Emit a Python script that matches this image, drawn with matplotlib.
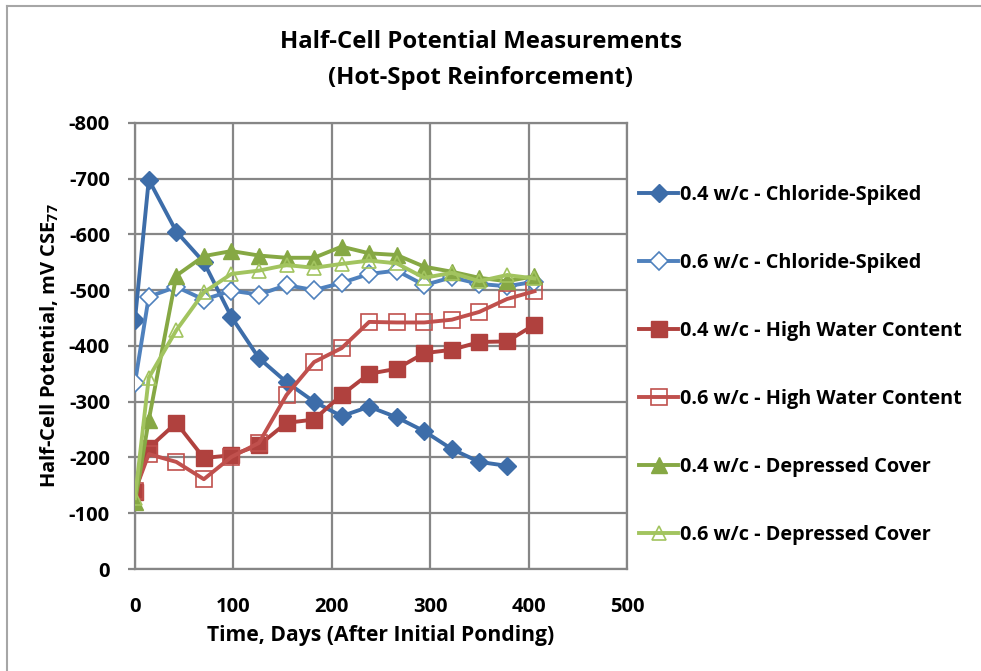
import matplotlib.pyplot as plt
from matplotlib.lines import Line2D

plt.rcParams['font.family'] = ['Open Sans', 'DejaVu Sans']
plt.rcParams['font.weight'] = 'bold'
plt.rcParams['axes.unicode_minus'] = False
plt.rcParams['mathtext.default'] = 'regular'

# days after initial ponding
days = [0, 14, 42, 70, 98, 126, 154, 182, 210, 238, 266, 294, 322, 350, 378, 406]

# half-cell potentials, mV CSE (negative values)
cs_04 = [-447, -698, -605, -550, -452, -378, -335, -300, -274, -291, -272, -247, -215, -192, -185]
cs_06 = [-334, -488, -506, -483, -499, -492, -509, -500, -513, -529, -535, -509, -523, -511, -507, -515]
hwc_04 = [-138, -217, -262, -199, -204, -222, -262, -268, -312, -350, -359, -387, -393, -407, -408, -438]
hwc_06 = [-140, -206, -192, -161, -201, -226, -312, -371, -396, -443, -442, -442, -447, -461, -484, -498]
dc_04 = [-120, -267, -526, -561, -570, -562, -558, -558, -578, -566, -563, -542, -533, -522, -516, -525]
dc_06 = [-127, -343, -428, -496, -529, -535, -545, -540, -547, -553, -548, -522, -531, -516, -527, -521]

labels = ['0.4 w/c - Chloride-Spiked', '0.6 w/c - Chloride-Spiked',
          '0.4 w/c - High Water Content', '0.6 w/c - High Water Content',
          '0.4 w/c - Depressed Cover', '0.6 w/c - Depressed Cover']

blue, blue_dk = '#4F81BD', '#3D6DA9'
red, red_dk = '#C0504D', '#B0413E'
green, green_dk = '#A2C45F', '#86A844'

series = [
    (days[:len(cs_04)], cs_04, dict(color=blue_dk, marker='D', mfc=blue_dk, mec=blue_dk, ms=9.5)),
    (days, cs_06, dict(color=blue, marker='D', mfc='white', mec=blue, ms=9, mew=1.2)),
    (days, hwc_04, dict(color=red_dk, marker='s', mfc=red_dk, mec=red_dk, ms=11)),
    (days, hwc_06, dict(color=red, marker='s', mfc='none', mec=red, ms=11, mew=1.2)),
    (days, dc_04, dict(color=green_dk, marker='^', mfc=green_dk, mec=green_dk, ms=11)),
    (days, dc_06, dict(color=green, marker='^', mfc='none', mec=green, ms=10.5, mew=1.2)),
]

fig = plt.figure(figsize=(9.81, 6.71), dpi=100)
ax = fig.add_axes([0.1376, 0.152, 0.5015, 0.665])

handles = []
for (x, y, style), lab in zip(series, labels):
    ax.plot(x, y, lw=2.8, zorder=3, **style)
    handles.append(Line2D([], [], lw=2.8, **style))

ax.set_xlim(0, 500)
ax.set_ylim(0, -800)
ax.set_xticks(range(0, 501, 100))
ax.set_yticks(range(0, -801, -100))
ax.grid(True, color='#868686', lw=1.6, zorder=0)
for s in ax.spines.values():
    s.set_color('#868686')
    s.set_linewidth(1.6)
ax.tick_params(axis='x', length=0, pad=20, labelsize=14.5)
ax.tick_params(axis='y', length=5, width=1.6, color='#868686', pad=13, labelsize=14.5)
for t in ax.get_xticklabels() + ax.get_yticklabels():
    t.set_fontweight('bold')

ax.set_xlabel('Time, Days (After Initial Ponding)', fontsize=15.2, fontweight='bold', labelpad=6)
ax.set_ylabel('Half-Cell Potential, mV CSE$_{77}$', fontsize=14.5, fontweight='bold', labelpad=6)
fig.text(0.49, 0.937, 'Half-Cell Potential Measurements', ha='center', va='center',
         fontsize=17.2, fontweight='bold')
fig.text(0.49, 0.884, '(Hot-Spot Reinforcement)', ha='center', va='center',
         fontsize=17.2, fontweight='bold')

leg = fig.legend(handles, labels, loc='upper left', bbox_to_anchor=(0.643, 0.736),
                 frameon=False, prop={'size': 14.3, 'weight': 'bold'}, handlelength=2.0,
                 handletextpad=0.1, labelspacing=2.42, borderaxespad=0)

# outer chart border (left and top)
fig.add_artist(Line2D([0.007, 0.007], [0, 0.991], color='#A6A6A6', lw=1.5))
fig.add_artist(Line2D([0.007, 1], [0.991, 0.991], color='#A6A6A6', lw=1.5))

fig.savefig('out.png', dpi=100)
